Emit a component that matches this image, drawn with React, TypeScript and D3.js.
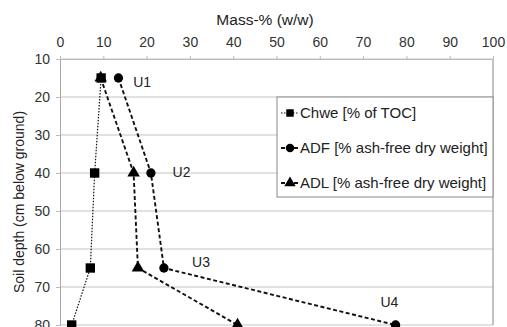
import React, { useEffect, useRef } from 'react';
import * as d3 from 'd3';

// depth in cm below ground
const depths = [15, 40, 65, 80];
const chwe = [9.5, 8, 7, 2.7];
const adf = [13.5, 21, 24, 77.5];
const adl = [9.4, 17, 18, 41];
const xTicks = [0, 10, 20, 30, 40, 50, 60, 70, 80, 90, 100];
const yTicks = [10, 20, 30, 40, 50, 60, 70, 80];
const sampleLabels = ['U1', 'U2', 'U3', 'U4'];
const sampleLabelPos = [[16.9, 16], [26, 39.7], [30.5, 63.4], [74, 74]];

const seriesList = [
  { name: 'Chwe [% of TOC]', values: chwe, symbol: d3.symbolSquare, dash: '1.5,1.5', width: 1.2 },
  { name: 'ADF [% ash-free dry weight]', values: adf, symbol: d3.symbolCircle, dash: '4,2.5', width: 1.9 },
  { name: 'ADL [% ash-free dry weight]', values: adl, symbol: d3.symbolTriangle, dash: '4,2.5', width: 1.9 },
];

const App = () => {
  const svgRef = useRef<SVGSVGElement>(null);

  useEffect(() => {
    const svg = d3.select(svgRef.current);
    svg.selectAll('*').remove();
    const font = 'Liberation Sans, Arial, sans-serif';
    const left = 60, right = 493, top = 59, bottom = 325;

    const x = d3.scaleLinear().domain([0, 100]).range([left, right]);
    const y = d3.scaleLinear().domain([10, 80]).range([top, bottom]);

    // gridlines
    svg.append('g').selectAll('line').data(yTicks).enter().append('line')
      .attr('x1', left).attr('x2', right)
      .attr('y1', d => y(d)).attr('y2', d => y(d))
      .attr('stroke', '#c4c4c4').attr('stroke-width', 1);

    // right border
    svg.append('line').attr('x1', right).attr('x2', right).attr('y1', top).attr('y2', bottom)
      .attr('stroke', '#999').attr('stroke-width', 1.2);

    // top axis
    const xAxis = svg.append('g')
      .attr('transform', `translate(0,${top})`)
      .call(d3.axisTop(x).tickValues(xTicks).tickSize(3).tickSizeOuter(0));
    xAxis.select('.domain').attr('stroke', '#bbb');
    xAxis.selectAll('line').attr('stroke', '#bbb');
    xAxis.selectAll('text').attr('font-family', font).attr('font-size', 14).attr('fill', '#333').attr('dy', '-0.45em');

    // left axis
    const yAxis = svg.append('g')
      .attr('transform', `translate(${left},0)`)
      .call(d3.axisLeft(y).tickValues(yTicks).tickSize(4).tickSizeOuter(0));
    yAxis.select('.domain').attr('stroke', '#aaa');
    yAxis.selectAll('line').attr('stroke', '#bbb');
    yAxis.selectAll('text').attr('font-family', font).attr('font-size', 14).attr('fill', '#333').attr('x', -10);

    // axis titles
    svg.append('text')
      .attr('x', 265).attr('y', 25)
      .attr('text-anchor', 'middle')
      .attr('font-family', font).attr('font-size', 15.5).attr('fill', '#222')
      .text('Mass-% (w/w)');
    svg.append('text')
      .attr('transform', `translate(24,${(top + bottom) / 2 + 10}) rotate(-90)`)
      .attr('text-anchor', 'middle')
      .attr('font-family', font).attr('font-size', 14).attr('fill', '#222')
      .text('Soil depth (cm below ground)');

    const pointsOf = (s: typeof seriesList[number]) =>
      depths.map((d, i) => [s.values[i], d] as [number, number]);

    // lines
    seriesList.forEach(s => {
      svg.append('path')
        .datum(pointsOf(s))
        .attr('fill', 'none')
        .attr('stroke', '#111')
        .attr('stroke-width', s.width)
        .attr('stroke-dasharray', s.dash)
        .attr('d', d3.line<[number, number]>().x(p => x(p[0])).y(p => y(p[1])));
    });

    // markers, squares drawn last so they sit on top
    [...seriesList].reverse().forEach(s => {
      svg.append('g').selectAll('path').data(pointsOf(s)).enter().append('path')
        .attr('transform', p => `translate(${x(p[0])},${y(p[1])})`)
        .attr('d', d3.symbol().type(s.symbol).size(s.symbol === d3.symbolSquare ? 88 : 68)())
        .attr('fill', '#000');
    });

    // sample labels
    svg.append('g').selectAll('text').data(sampleLabels).enter().append('text')
      .attr('x', (d, i) => x(sampleLabelPos[i][0]))
      .attr('y', (d, i) => y(sampleLabelPos[i][1]))
      .attr('dy', '0.35em')
      .attr('font-family', font).attr('font-size', 14).attr('fill', '#222')
      .text(d => d);

    // legend
    const legend = svg.append('g').attr('transform', 'translate(277,97)');
    legend.append('rect')
      .attr('width', 216).attr('height', 100)
      .attr('fill', '#fff').attr('stroke', '#888').attr('stroke-width', 1);
    seriesList.forEach((s, i) => {
      const ly = 16 + i * 35;
      const g = legend.append('g').attr('transform', `translate(0,${ly})`);
      g.append('line').attr('x1', 4).attr('x2', 21).attr('y1', 0).attr('y2', 0)
        .attr('stroke', '#111').attr('stroke-width', s.width).attr('stroke-dasharray', s.dash);
      g.append('path').attr('transform', 'translate(13,0)')
        .attr('d', d3.symbol().type(s.symbol).size(56)()).attr('fill', '#000');
      g.append('text').attr('x', 23).attr('y', 0).attr('dy', '0.35em')
        .attr('font-family', font).attr('font-size', 15).attr('fill', '#222')
        .text(s.name);
    });
  }, []);

  return (
    <div style={{ position: 'absolute', left: 0, top: 0 }}>
      <svg ref={svgRef} width={507} height={327} style={{ display: 'block', background: '#fff' }} />
    </div>
  );
};

export default App;
